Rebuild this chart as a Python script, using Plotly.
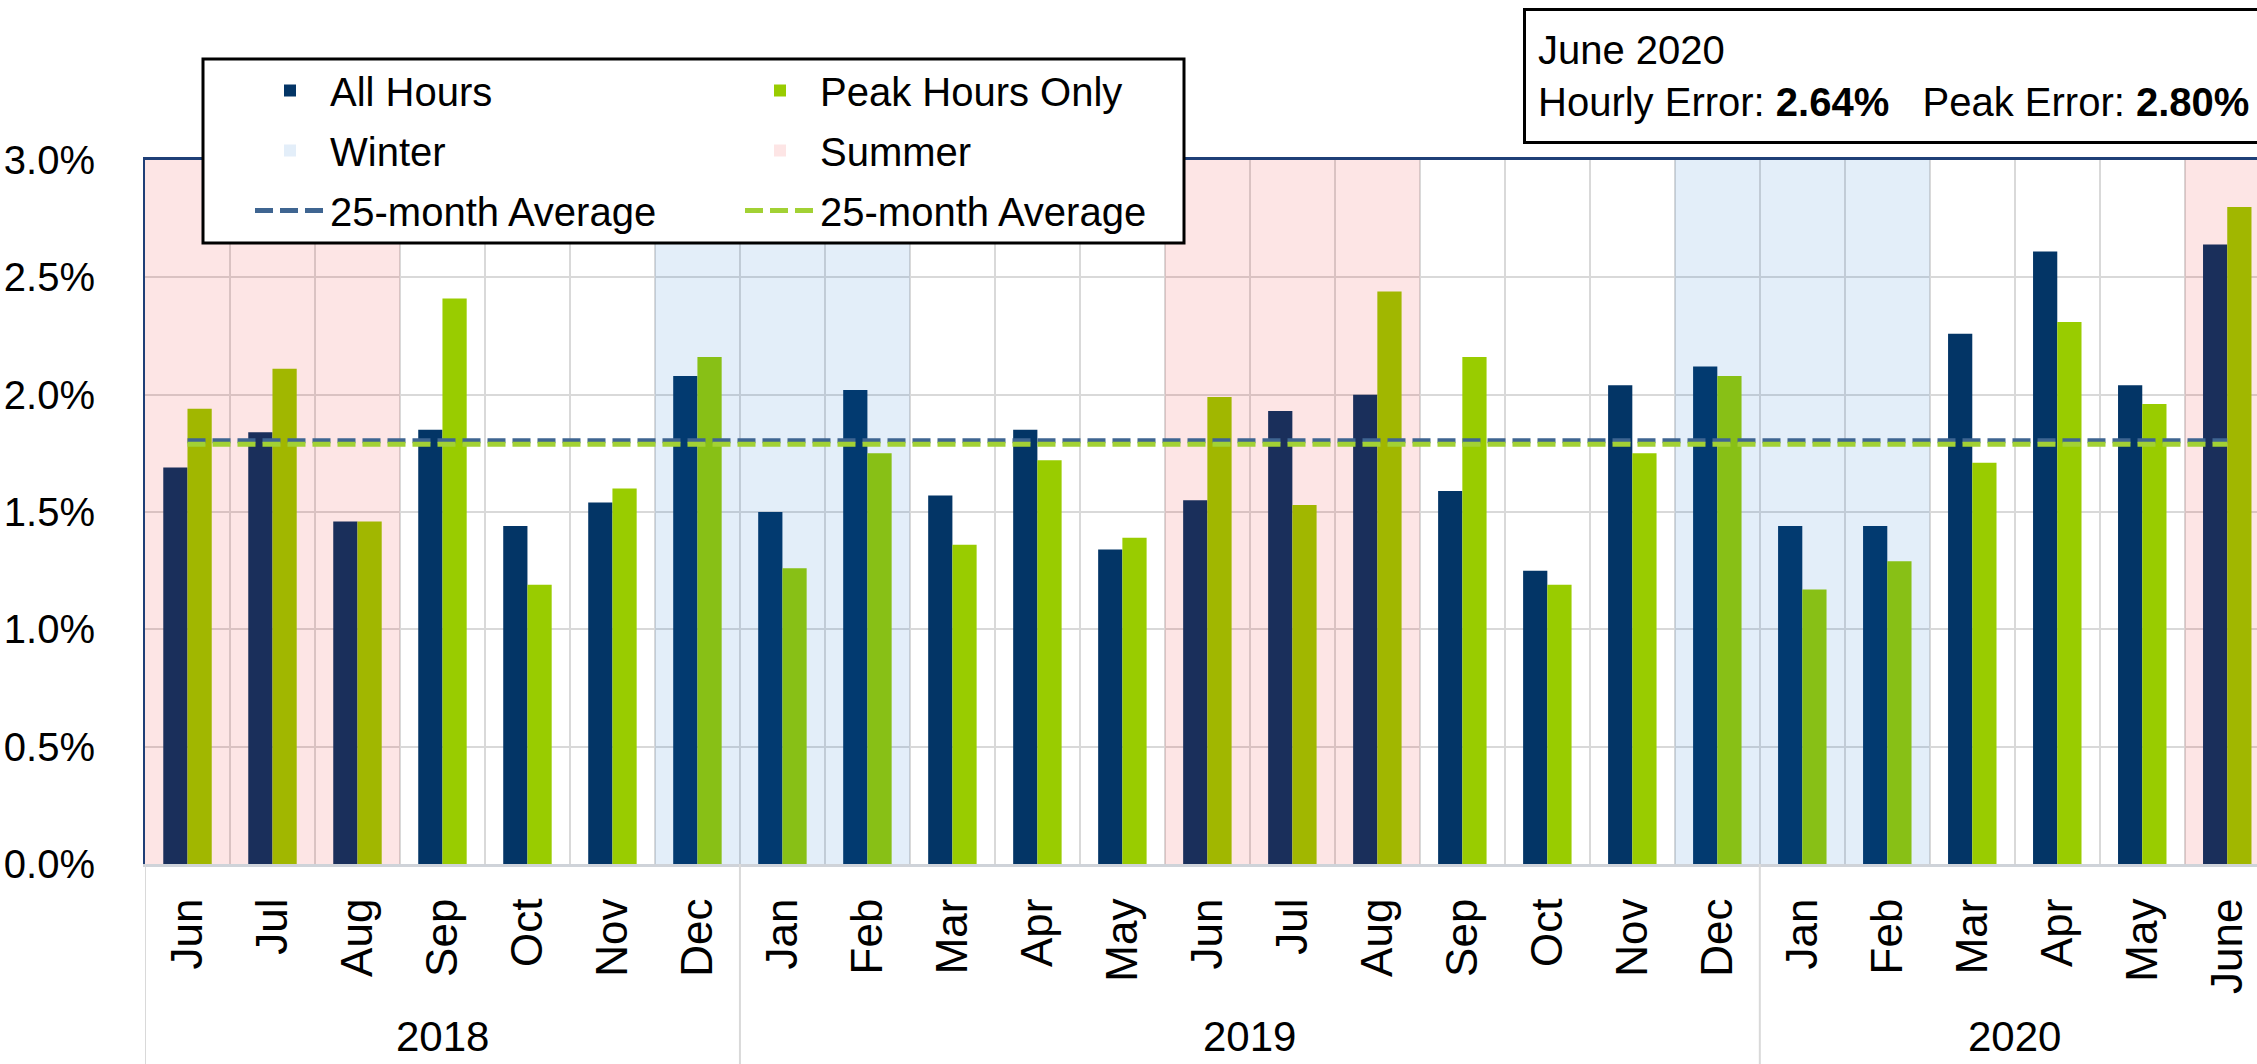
import plotly.graph_objects as go

# ---------------- data ----------------
months = ["Jun", "Jul", "Aug", "Sep", "Oct", "Nov", "Dec",
          "Jan", "Feb", "Mar", "Apr", "May", "Jun", "Jul", "Aug", "Sep", "Oct", "Nov", "Dec",
          "Jan", "Feb", "Mar", "Apr", "May", "June"]
years = ["2018", "2018", "2018", "2018", "2018", "2018", "2018",
         "2019", "2019", "2019", "2019", "2019", "2019", "2019", "2019", "2019", "2019", "2019", "2019",
         "2020", "2020", "2020", "2020", "2020", "2020"]
seasons = ["Summer", "Summer", "Summer", "", "", "", "Winter",
           "Winter", "Winter", "", "", "", "Summer", "Summer", "Summer", "", "", "", "Winter",
           "Winter", "Winter", "", "", "", "Summer"]
hourly = [1.69, 1.84, 1.46, 1.85, 1.44, 1.54, 2.08,
          1.50, 2.02, 1.57, 1.85, 1.34, 1.55, 1.93, 2.00, 1.59, 1.25, 2.04, 2.12,
          1.44, 1.44, 2.26, 2.61, 2.04, 2.64]
peak = [1.94, 2.11, 1.46, 2.41, 1.19, 1.60, 2.16,
        1.26, 1.75, 1.36, 1.72, 1.39, 1.99, 1.53, 2.44, 2.16, 1.19, 1.75, 2.08,
        1.17, 1.29, 1.71, 2.31, 1.96, 2.80]
y_max = 3.0

# ---------------- styles ----------------
NAVY = "#033566"
GREEN = "#99CC00"
SUMMER = "rgba(235,0,0,0.10)"
WINTER = "rgba(0,102,204,0.11)"
AVG_NAVY = "#3F6591"
AVG_GREEN = "#A2D134"
BORDER = "#1F3F77"
GRID = "#D9D9D9"
FONT = "Liberation Sans Narrow, Arial Narrow, Liberation Sans, Arial, sans-serif"
REG = "Liberation Sans, Arial, sans-serif"
FS = 40

W, H = 2257, 1064
ML, MR, MT, MB = 145, 0, 160, 200
PW, PH = W - ML - MR, H - MT - MB
x_hi = 24.35


def px(xp):
    return (xp - ML) / PW


def py(yp):
    return (H - MB - yp) / PH


n = len(months)
idx = list(range(n))
avg_h = sum(hourly) / n
avg_p = sum(peak) / n

fig = go.Figure()
fig.add_trace(go.Bar(x=idx, y=hourly, name="All Hours", marker_color=NAVY,
                     marker_line_width=0, legend="legend", legendgroup="a"))
fig.add_trace(go.Bar(x=idx, y=peak, name="Peak Hours Only", marker_color=GREEN,
                     marker_line_width=0, legend="legend2", legendgroup="b"))
fig.add_trace(go.Bar(x=idx, y=[y_max if s == "Winter" else None for s in seasons], name="Winter",
                     width=1, offset=-0.5, marker_color=WINTER, marker_line_width=0,
                     xaxis="x2", yaxis="y2", legend="legend", legendgroup="c", hoverinfo="skip"))
fig.add_trace(go.Bar(x=idx, y=[y_max if s == "Summer" else None for s in seasons], name="Summer",
                     width=1, offset=-0.5, marker_color=SUMMER, marker_line_width=0,
                     xaxis="x2", yaxis="y2", legend="legend2", legendgroup="d", hoverinfo="skip"))
fig.add_trace(go.Scatter(x=[idx[0], idx[-1]], y=[avg_h, avg_h], mode="lines", name="25-month Average",
                         line=dict(color=AVG_NAVY, width=5, dash="18px,7px"),
                         xaxis="x2", yaxis="y2", legend="legend", legendgroup="e"))
fig.add_trace(go.Scatter(x=[idx[0], idx[-1]], y=[avg_p, avg_p], mode="lines", name="25-month Average",
                         line=dict(color=AVG_GREEN, width=5, dash="18px,7px"),
                         xaxis="x2", yaxis="y2", legend="legend2", legendgroup="f"))

legend_common = dict(bgcolor="rgba(0,0,0,0)", borderwidth=0, orientation="v",
                     font=dict(family=FONT, size=FS, color="black"),
                     itemwidth=70, xanchor="left", yanchor="top", tracegroupgap=5)

fig.update_layout(
    width=W, height=H,
    margin=dict(l=ML, r=MR, t=MT, b=MB, autoexpand=False),
    paper_bgcolor="white", plot_bgcolor="white",
    barmode="group", bargap=0.43, bargroupgap=0,
    font=dict(family=FONT, size=FS, color="black"),
    showlegend=True,
    legend=dict(x=px(250), y=py(58), **legend_common),
    legend2=dict(x=px(740), y=py(58), **legend_common),
    xaxis=dict(type="linear", range=[-0.5, x_hi], tickmode="array", tickvals=idx, ticktext=months,
               showgrid=False, zeroline=False,
               minor=dict(tickmode="array", tickvals=[i - 0.5 for i in range(n + 1)],
                          showgrid=True, gridcolor=GRID, gridwidth=2, ticks=""),
               showline=True, linecolor="#CFD3D9", linewidth=3,
               tickangle=-90, tickfont=dict(family=REG, size=44, color="black"),
               ticks="", ticklabelstandoff=14),
    yaxis=dict(range=[0, y_max], tick0=0, dtick=0.5, tickformat=".1f", ticksuffix="%",
               showgrid=True, gridcolor=GRID, gridwidth=2, zeroline=False,
               showline=True, linecolor=BORDER, linewidth=2,
               ticklabelstandoff=40, tickfont=dict(family=FONT, size=FS, color="black")),
    xaxis2=dict(overlaying="x", anchor="y2", side="top", range=[-0.5, x_hi],
                showline=True, linecolor=BORDER, linewidth=3, showgrid=False,
                showticklabels=False, zeroline=False, ticks=""),
    yaxis2=dict(overlaying="y", anchor="x2", range=[0, y_max], showgrid=False,
                showticklabels=False, showline=False, zeroline=False, ticks=""),
)

# year group labels and dividers
year_order = []
for y in years:
    if y not in year_order:
        year_order.append(y)
for yr in year_order:
    pos = [i for i, v in enumerate(years) if v == yr]
    fig.add_annotation(xref="x", yref="paper", x=(pos[0] + pos[-1]) / 2, y=py(1036),
                       yanchor="middle", xanchor="center", text=yr, showarrow=False,
                       font=dict(family=REG, size=42, color="black"))
    fig.add_shape(type="line", xref="x", yref="paper", x0=pos[0] - 0.5, x1=pos[0] - 0.5,
                  y0=0, y1=py(H), line=dict(color=GRID, width=2), layer="above")

# legend frame
fig.add_shape(type="rect", xref="paper", yref="paper", x0=px(203), x1=px(1184),
              y0=py(243), y1=py(59), fillcolor="white", line=dict(color="black", width=3),
              layer="above")

nb = "\u00a0"
fig.add_annotation(
    xref="paper", yref="paper", x=px(1523), y=py(8), xanchor="left", yanchor="top",
    text=(f"June 2020<br>Hourly Error: <b>{hourly[-1]:.2f}%</b>{nb*3}"
          f"Peak Error: <b>{peak[-1]:.2f}%</b>"),
    align="left", valign="middle", showarrow=False, bordercolor="black", borderwidth=3,
    borderpad=12, bgcolor="white", width=780, height=106,
    font=dict(family=FONT, size=FS, color="black"))

fig.write_html("out.html", config={"displayModeBar": False},
               post_script="document.body.style.margin='0';document.body.style.overflow='hidden';")
